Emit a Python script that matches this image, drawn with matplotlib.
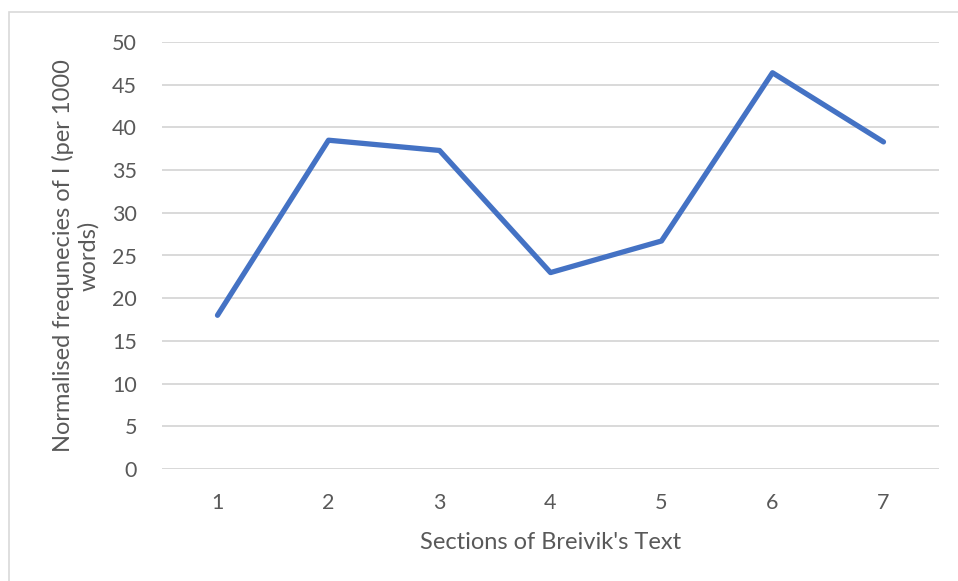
import matplotlib.pyplot as plt
from matplotlib.patches import Rectangle

sections = [1, 2, 3, 4, 5, 6, 7]
freq_i = [18.0, 38.5, 37.3, 23.0, 26.7, 46.4, 38.3]
y_ticks = [0, 5, 10, 15, 20, 25, 30, 35, 40, 45, 50]

grey_text = "#595959"
grid_col = "#d9d9d9"

plt.rcParams["font.family"] = ["Lato", "DejaVu Sans"]

fig = plt.figure(figsize=(9.58, 5.81), dpi=100)
ax = fig.add_axes([162 / 958, 1 - 469 / 581, 777 / 958, 427 / 581])

# chart frame (only top and left edges fall inside the image)
fig.patches.append(Rectangle((8.5 / 958, -0.1), 1.2, 1 - 12.5 / 581 + 0.1,
                             transform=fig.transFigure, fill=False,
                             edgecolor=grid_col, linewidth=1.2))

ax.plot(sections, freq_i, color="#4472C4", linewidth=3.8,
        solid_capstyle="round", solid_joinstyle="round", zorder=3)

ax.set_xlim(0.5, 7.5)
ax.set_ylim(0, 50)
ax.set_yticks(y_ticks)
ax.set_xticks(sections)
ax.yaxis.grid(True, color=grid_col, linewidth=1.4)
ax.set_axisbelow(True)
for s in ax.spines.values():
    s.set_visible(False)
ax.axhline(0, color=grid_col, linewidth=1.4, zorder=1)
ax.tick_params(length=0, labelsize=15.5, labelcolor=grey_text)
ax.tick_params(axis="y", pad=18)
ax.tick_params(axis="x", pad=17)

ax.set_xlabel("Sections of Breivik's Text", fontsize=17, color=grey_text, labelpad=14)
ax.set_ylabel("Normalised frequnecies of I (per 1000\nwords)", fontsize=17,
              color=grey_text, labelpad=9, linespacing=1.2)

fig.savefig("out.png", dpi=100)
